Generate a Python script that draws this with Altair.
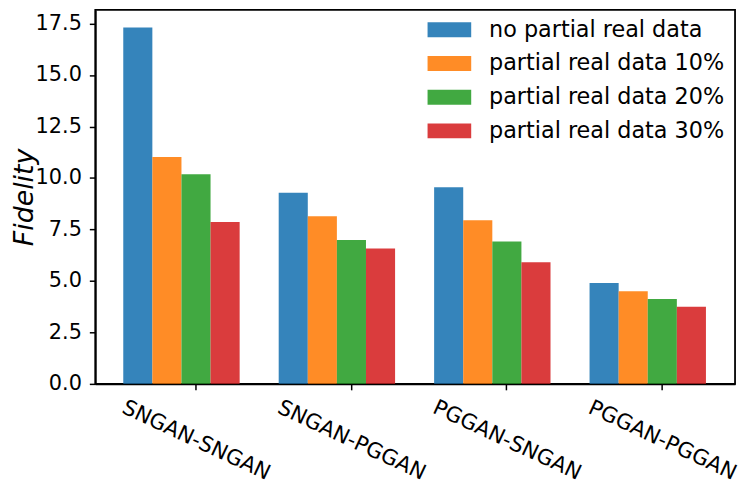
import altair as alt
import pandas as pd

groups = ["SNGAN-SNGAN", "SNGAN-PGGAN", "PGGAN-SNGAN", "PGGAN-PGGAN"]
series = ["no partial real data", "partial real data 10%",
          "partial real data 20%", "partial real data 30%"]
no_partial = [17.31, 9.28, 9.55, 4.90]
partial_10 = [11.02, 8.14, 7.95, 4.50]
partial_20 = [10.18, 6.99, 6.91, 4.12]
partial_30 = [7.86, 6.57, 5.91, 3.75]
colors = ["#1f77b4", "#ff7f0e", "#2ca02c", "#d62728"]
y_ticks = [0.0, 2.5, 5.0, 7.5, 10.0, 12.5, 15.0, 17.5]

rows = []
for s, vals in zip(series, [no_partial, partial_10, partial_20, partial_30]):
    for g, v in zip(groups, vals):
        rows.append({"group": g, "series": s, "value": v})
df = pd.DataFrame(rows)

FONT = "DejaVu Sans"

chart = alt.Chart(df).mark_bar(fillOpacity=0.9, strokeWidth=0).encode(
    x=alt.X("group:N", sort=groups, title=None,
            scale=alt.Scale(paddingInner=0.064, paddingOuter=0.09, align=1),
            axis=alt.Axis(labelAngle=25, labelAlign="center", labelBaseline="middle",
                          labelPadding=51, labelFontSize=21.5, labelFont=FONT,
                          labelColor="black", tickColor="black", tickSize=6,
                          tickWidth=1.5, domainColor="black", domainWidth=1.8,
                          labelOverlap=False, labelFlush=False, labelBound=False,
                          grid=False)),
    xOffset=alt.XOffset("series:N",
                        scale=alt.Scale(domain=series + ["__pad__"], paddingInner=0,
                                        paddingOuter=0)),
    y=alt.Y("value:Q", title="Fidelity",
            scale=alt.Scale(domain=[0, 18.16], nice=False, zero=True),
            axis=alt.Axis(values=y_ticks, format=".1f", labelFontSize=21,
                          labelFont=FONT, labelColor="black", labelPadding=8,
                          tickColor="black", tickSize=6, tickWidth=1.5,
                          domainColor="black", domainWidth=1.8, grid=False,
                          titleFont=FONT, titleFontSize=27, titleFontStyle="italic",
                          titleFontWeight="normal", titleColor="black",
                          titleX=-71, titleBaseline="middle")),
    color=alt.Color("series:N",
                    scale=alt.Scale(domain=series, range=colors),
                    legend=alt.Legend(title=None, orient="none", legendX=335, legendY=-2,
                                      symbolType="M-1,-0.34H1V0.34H-1Z",
                                      symbolSize=1936, symbolOpacity=0.9,
                                      symbolStrokeWidth=0,
                                      labelFontSize=22.5, labelFont=FONT,
                                      labelColor="black", labelOffset=18,
                                      labelLimit=0,
                                      rowPadding=0, padding=0)),
).properties(
    width=645, height=377,
    autosize=alt.AutoSizeParams(type="none"),
    padding={"left": 88, "top": 0, "right": 5, "bottom": 100},
).configure_view(
    stroke="black", strokeWidth=1.8
)

chart.save("out.html", embed_options={"renderer": "svg", "actions": False})
